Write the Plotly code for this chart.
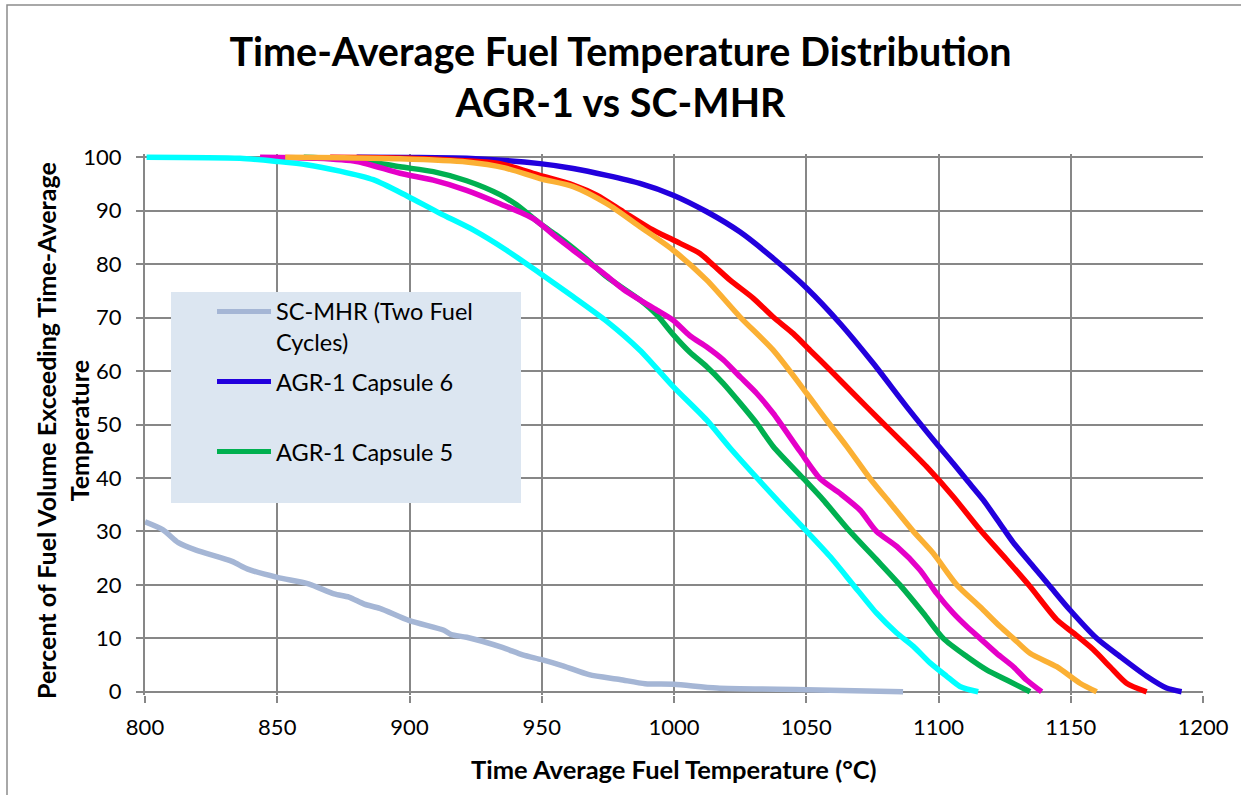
import plotly.graph_objects as go

# ---------------- data ----------------
x_ticks = [800, 850, 900, 950, 1000, 1050, 1100, 1150, 1200]
y_ticks = [0, 10, 20, 30, 40, 50, 60, 70, 80, 90, 100]

scmhr_t = [800, 806.8, 812.6, 819.3, 832.9, 838.6, 850, 861.8, 871.5, 877.1, 882.9, 888.8, 900,
           913, 915.8, 921.6, 935.1, 942.8, 950, 958.3, 967.9, 979.5, 989.1, 1000, 1016.2, 1050, 1086.6]
scmhr_p = [31.8, 30.3, 27.9, 26.5, 24.4, 23.0, 21.4, 20.2, 18.3, 17.7, 16.4, 15.6, 13.3,
           11.5, 10.7, 10.2, 8.3, 6.9, 6.0, 4.8, 3.2, 2.3, 1.5, 1.4, 0.7, 0.4, 0.0]

cap6_t = [880, 900, 921.6, 949.3, 961.9, 974.6, 987.1, 999.7, 1012.4, 1025.0, 1037.5, 1050.2, 1062.8,
          1075.4, 1088.0, 1099.3, 1105.6, 1110.7, 1116.9, 1123.3, 1128.3, 1135.9, 1142.2,
          1149.7, 1159.8, 1168.6, 1178.7, 1186.2, 1191.9]
cap6_p = [100, 99.95, 99.8, 98.8, 97.9, 96.6, 95.1, 92.9, 89.8, 86.0, 81.1, 75.5, 68.9,
          61.4, 53.3, 46.4, 42.7, 39.6, 35.9, 31.4, 27.9, 23.4, 19.7,
          15.3, 10.0, 6.6, 2.9, 0.7, 0.0]

red_t = [870, 900, 934.2, 949.3, 961.9, 970.8, 980.8, 990.9, 999.7, 1009.8, 1014.9, 1021.2, 1030.0,
         1037.5, 1045.1, 1051.4, 1059.0, 1067.8, 1077.9, 1086.7, 1095.5, 1105.6, 1115.7, 1125.8,
         1134.6, 1144.7, 1151.0, 1158.5, 1164.8, 1171.1, 1178.7]
red_p = [100, 99.8, 98.8, 96.6, 94.8, 92.9, 89.8, 86.7, 84.5, 82.0, 79.8, 77.0, 73.6,
         70.1, 67.0, 63.9, 60.2, 55.8, 50.8, 46.5, 42.1, 36.5, 30.3, 24.7,
         19.7, 13.5, 11.0, 7.9, 4.7, 1.6, 0.0]

orange_t = [853, 875, 896.4, 921.6, 936, 949.3, 961.9, 974.6, 987.1, 999.7, 1012.4, 1025.0, 1037.5,
            1050.2, 1057.7, 1065.3, 1074.1, 1081.7, 1090.5, 1098.0, 1106.9, 1115.7, 1123.3, 1128.3,
            1134.6, 1144.7, 1153.5, 1159.8]
orange_p = [100, 99.9, 99.7, 99.1, 98.0, 96.0, 94.5, 91.3, 87.0, 82.6, 77.0, 70.1, 63.9,
            55.8, 50.8, 45.9, 39.9, 35.3, 30.0, 25.9, 20.0, 15.9, 12.2, 10.0,
            7.2, 4.7, 1.6, 0.0]

magenta_t = [843.5, 865, 880.0, 896.4, 909.0, 921.6, 934.2, 946.8, 955.6, 961.9, 968.2, 974.6, 980.8,
             987.1, 993.5, 999.7, 1006.0, 1012.4, 1018.6, 1025.0, 1031.3, 1037.5, 1047.6, 1055.2,
             1062.8, 1070.3, 1076.6, 1084.2, 1093.0, 1099.3, 1105.6, 1110.7, 1115.7, 1122.0,
             1128.3, 1133.3, 1139.0]
magenta_p = [100, 99.8, 99.2, 97.0, 95.7, 93.8, 91.3, 88.5, 85.0, 82.6, 80.2, 77.8, 75.3,
             73.3, 71.4, 69.5, 66.6, 64.5, 62.1, 58.9, 55.8, 52.1, 45.0, 39.9,
             37.1, 34.0, 30.0, 27.2, 22.8, 18.4, 14.7, 12.2, 10.0, 7.2,
             4.7, 2.2, 0.0]

cap5_t = [860, 880, 896.4, 909.0, 921.6, 934.2, 940.5, 949.3, 955.6, 961.9, 968.2, 974.6, 987.1, 993.5,
          999.7, 1006.0, 1012.4, 1018.6, 1025.0, 1031.3, 1037.5, 1048.9, 1056.4, 1066.5, 1076.6, 1085.4,
          1094.3, 1101.8, 1110.7, 1118.2, 1125.8, 1134.6]
cap5_p = [100, 99.5, 98.2, 97.3, 95.6, 93.0, 91.1, 87.6, 85.4, 83.0, 80.4, 77.6, 73.3, 70.5,
          66.8, 63.5, 60.8, 57.7, 54.0, 50.2, 45.9, 39.9, 35.9, 30.0, 24.7, 20.0,
          14.7, 10.0, 6.6, 4.1, 2.2, 0.0]

cyan_t = [800.6, 835.9, 850.0, 861.1, 873.7, 886.3, 898.9, 911.5, 924.1, 936.7, 949.3, 961.9, 974.6,
          987.1, 999.7, 1012.4, 1021.2, 1040.1, 1050.2, 1059.0, 1067.8, 1076.6, 1084.2, 1090.5,
          1096.8, 1103.1, 1108.1, 1115.0]
cyan_p = [100, 99.8, 99.2, 98.6, 97.4, 95.8, 92.8, 89.5, 86.4, 82.6, 78.3, 73.9, 69.3,
          63.9, 57.1, 50.8, 45.6, 35.3, 30.0, 25.3, 20.0, 14.7, 11.0, 8.5,
          5.4, 2.9, 1.0, 0.0]

legend_labels = ["SC-MHR (Two Fuel<br>Cycles)", "AGR-1 Capsule 6", "AGR-1 Capsule 5"]

# ---------------- styling ----------------
FONT = "Lato"
GRID = "#878787"
C_GRAY = "#A5B6D5"
C_BLUE = "#2200DD"
C_RED = "#FF0000"
C_ORANGE = "#FBB034"
C_MAGENTA = "#E500C8"
C_GREEN = "#00B050"
C_CYAN = "#00FFFF"
LW = 5.5

W, H = 1241, 795
ML, MR, MT, MB = 145, 38, 154, 100
PW, PH = W - ML - MR, H - MT - MB


def px(xp):
    return (xp - ML) / PW


def py(yp):
    return (H - MB - yp) / PH


fig = go.Figure()
series = [
    ("SC-MHR (Two Fuel Cycles)", scmhr_t, scmhr_p, C_GRAY),
    ("AGR-1 Capsule 6", cap6_t, cap6_p, C_BLUE),
    ("AGR-1 Capsule 5", cap5_t, cap5_p, C_GREEN),
    ("Series 4", red_t, red_p, C_RED),
    ("Series 5", magenta_t, magenta_p, C_MAGENTA),
    ("Series 6", orange_t, orange_p, C_ORANGE),
    ("Series 7", cyan_t, cyan_p, C_CYAN),
]
for name, t, p, c in series:
    fig.add_trace(go.Scatter(x=t, y=p, mode="lines", name=name, showlegend=False,
                             line=dict(color=c, width=LW, shape="spline", smoothing=0.7)))

shapes = [
    # outer chart frame
    dict(type="rect", xref="paper", yref="paper", x0=px(7), x1=px(1260), y0=py(810), y1=py(5),
         line=dict(color="#8C8C8C", width=1.5), fillcolor="rgba(0,0,0,0)", layer="below"),
    # legend box
    dict(type="rect", xref="paper", yref="paper", x0=px(171), x1=px(521), y0=py(503), y1=py(292),
         line=dict(width=0), fillcolor="#DCE6F1", layer="above"),
]
legend_colors = [C_GRAY, C_BLUE, C_GREEN]
legend_y = [311.5, 381.5, 451.5]
for c, yy in zip(legend_colors, legend_y):
    shapes.append(dict(type="line", xref="paper", yref="paper", x0=px(217), x1=px(271),
                       y0=py(yy), y1=py(yy), line=dict(color=c, width=5), layer="above"))

LF = 23.5
annotations = [
    dict(text=legend_labels[0], xref="paper", yref="paper", x=px(274), y=py(326), xanchor="left",
         yanchor="middle", align="left", showarrow=False, font=dict(family=FONT, size=LF, color="black")),
    dict(text=legend_labels[1], xref="paper", yref="paper", x=px(274), y=py(381.5), xanchor="left",
         yanchor="middle", align="left", showarrow=False, font=dict(family=FONT, size=LF, color="black")),
    dict(text=legend_labels[2], xref="paper", yref="paper", x=px(274), y=py(451.5), xanchor="left",
         yanchor="middle", align="left", showarrow=False, font=dict(family=FONT, size=LF, color="black")),
    # axis titles
    dict(text="<b>Time Average Fuel Temperature (°C)</b>", xref="paper", yref="paper", x=0.5, y=py(769),
         xanchor="center", yanchor="middle", showarrow=False, font=dict(family=FONT, size=25.5, color="black")),
    dict(text="<b>Percent of Fuel Volume Exceeding Time-Average<br>Temperature</b>", xref="paper", yref="paper",
         x=px(62), y=py(431), xanchor="center", yanchor="middle", textangle=-90, showarrow=False,
         font=dict(family=FONT, size=25, color="black")),
]

fig.update_layout(
    width=W, height=H,
    margin=dict(l=ML, r=MR, t=MT, b=MB, autoexpand=False),
    paper_bgcolor="white", plot_bgcolor="white",
    title=dict(text="<b>Time-Average Fuel Temperature Distribution<br>AGR-1 vs SC-MHR</b>",
               x=0.5, xref="container", xanchor="center", y=1 - 66 / H, yref="container", yanchor="middle",
               font=dict(family=FONT, size=39.5, color="black")),
    shapes=shapes,
    annotations=annotations,
    showlegend=False,
    font=dict(family=FONT, size=22, color="black"),
)
fig.update_xaxes(range=[800, 1200], tickvals=x_ticks, ticktext=[str(v) for v in x_ticks],
                 showgrid=True, gridcolor=GRID, gridwidth=2, zeroline=False,
                 showline=False, ticks="outside", ticklen=7, tickwidth=2, tickcolor=GRID,
                 ticklabelstandoff=6, tickfont=dict(family=FONT, size=22, color="black"))
fig.update_yaxes(range=[-0.6, 100.6], tickvals=y_ticks, ticktext=[str(v) for v in y_ticks],
                 showgrid=True, gridcolor=GRID, gridwidth=2,
                 zeroline=True, zerolinecolor=GRID, zerolinewidth=2,
                 showline=True, linecolor=GRID, linewidth=2,
                 ticks="outside", ticklen=7, tickwidth=2, tickcolor=GRID,
                 ticklabelstandoff=10, tickfont=dict(family=FONT, size=22, color="black"))

fig.write_html("out.html", config={"displayModeBar": False},
               post_script="document.body.style.margin='0';document.body.style.overflow='hidden';")
